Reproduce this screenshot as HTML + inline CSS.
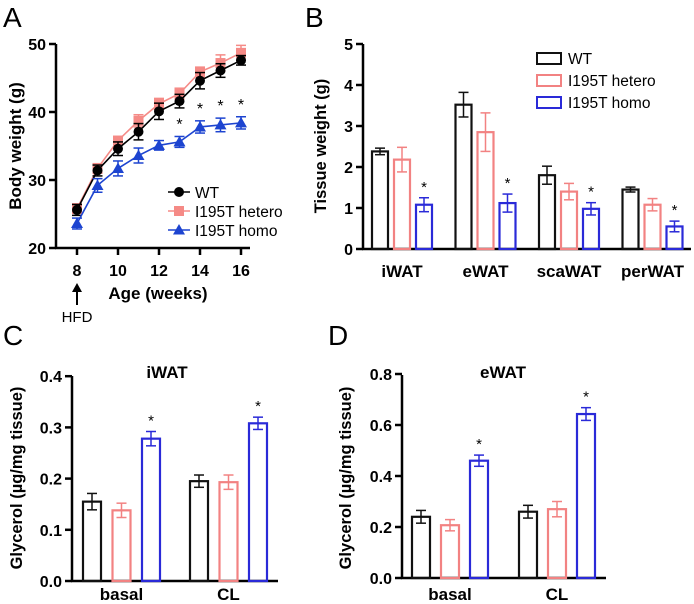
<!DOCTYPE html>
<html><head><meta charset="utf-8"><style>
html,body{margin:0;padding:0;background:#fff}
svg{display:block;font-family:"Liberation Sans",Arial,sans-serif}
</style></head><body>
<svg id="fig" width="694" height="604" viewBox="0 0 694 604"></svg>
<script>
// Panel A data
const ageWeeks = [8,9,10,11,12,13,14,15,16];
const wtBody = [25.6,31.4,34.6,37.1,40.1,41.6,44.6,46.1,47.6];
const wtBodyErr = [0.8,0.8,1.0,1.2,1.2,1.0,1.2,1.0,0.7];
const hetBody = [25.8,31.7,35.8,38.7,41.2,42.7,45.9,47.2,48.7];
const hetBodyErr = [0.7,0.7,0.6,0.9,0.8,0.8,0.7,1.2,1.1];
const homoBody = [23.6,29.2,31.7,33.6,35.1,35.6,37.8,38.1,38.4];
const homoBodyErr = [0.8,1.0,1.1,1.1,0.7,0.8,0.9,1.0,0.9];
const starWeeks = [13,14,15,16];
const aYTicks = [20,30,40,50];
const aXTicks = [8,10,12,14,16];
// Panel B data
const tissues = ["iWAT","eWAT","scaWAT","perWAT"];
const wtTissue = [2.38,3.52,1.8,1.45];
const wtTissueErr = [0.08,0.3,0.22,0.06];
const hetTissue = [2.18,2.85,1.4,1.08];
const hetTissueErr = [0.3,0.47,0.2,0.15];
const homoTissue = [1.08,1.12,0.98,0.55];
const homoTissueErr = [0.17,0.22,0.15,0.13];
const bYTicks = [0,1,2,3,4,5];
// Panel C data
const conditions = ["basal","CL"];
const wtC = [0.155,0.195], wtCErr = [0.016,0.012];
const hetC = [0.138,0.193], hetCErr = [0.014,0.014];
const homoC = [0.278,0.308], homoCErr = [0.014,0.012];
const cYTicks = [0.0,0.1,0.2,0.3,0.4];
// Panel D data
const wtD = [0.24,0.26], wtDErr = [0.025,0.025];
const hetD = [0.207,0.27], hetDErr = [0.022,0.03];
const homoD = [0.46,0.643], homoDErr = [0.022,0.025];
const dYTicks = [0.0,0.2,0.4,0.6,0.8];

const NS="http://www.w3.org/2000/svg";
const svg=document.getElementById('fig');
const BLK="#111", PINK="#f28282", BLUE="#2a2ad8";
function mk(tag,attrs,parent,text){const e=document.createElementNS(NS,tag);for(const k in attrs)e.setAttribute(k,attrs[k]);if(text!==undefined)e.textContent=text;(parent||svg).appendChild(e);return e;}
function grp(name){const g=mk('g',{});return g;}
function txt(g,x,y,s,o){return mk('text',Object.assign({x:x,y:y,'font-size':16,'font-weight':'bold','text-anchor':'middle',fill:'#000'},o||{}),g,s);}
function line(g,x1,y1,x2,y2,c,w){return mk('line',{x1,y1,x2,y2,stroke:c||'#000','stroke-width':w||2},g);}

// Panel letters
[["A",3,27],["B",305,27],["C",3,345],["D",328,345]].forEach(p=>{const t=mk('text',{x:p[1],y:p[2],'font-size':28,fill:'#000'},svg,p[0]);});

// ---------- Panel A ----------
(function(){
const g=grp('panel-a-body-weight-chart');
const X=w=>77+(w-8)*20.5, Y=v=>248-(v-20)*6.8;
line(g,56,44,56,249,'#000',2.5); line(g,55,248,250,248,'#000',2.5);
aYTicks.forEach(v=>{line(g,49,Y(v),56,Y(v),'#000',2.5);const t=txt(g,46,Y(v)+6,String(v),{'text-anchor':'end'});});
aXTicks.forEach(v=>{line(g,X(v),248,X(v),255,'#000',2.5);const t=txt(g,X(v),276,String(v));});
const yl=txt(g,0,0,'Body weight (g)',{transform:'translate(21,146) rotate(-90)','font-size':17});

const xl=txt(g,158,299,'Age (weeks)',{'font-size':17});

line(g,77,305,77,290,'#000',2);mk('polygon',{points:'72,292 82,292 77,283',fill:'#000'},g);
const h=txt(g,77,322,'HFD',{'font-weight':'normal','font-size':15});

function series(vals,errs,col,name,shape){
  const s=mk('g',{},g);
  mk('polyline',{points:vals.map((v,i)=>X(ageWeeks[i])+','+Y(v)).join(' '),fill:'none',stroke:col,'stroke-width':1.6},s);
  vals.forEach((v,i)=>{const x=X(ageWeeks[i]);
    line(s,x,Y(v-errs[i]),x,Y(v+errs[i]),col,1.5);line(s,x-5,Y(v+errs[i]),x+5,Y(v+errs[i]),col,1.5);line(s,x-5,Y(v-errs[i]),x+5,Y(v-errs[i]),col,1.5);
    let m;
    if(shape==='c')m=mk('circle',{cx:x,cy:Y(v),r:5,fill:col},s);
    else if(shape==='s')m=mk('rect',{x:x-5,y:Y(v)-5,width:10,height:10,fill:col},s);
    else m=mk('polygon',{points:`${x-6},${Y(v)+4.5} ${x+6},${Y(v)+4.5} ${x},${Y(v)-6}`,fill:col},s);
    
  });
}
series(hetBody,hetBodyErr,'#f58a86','series-hetero','s');
series(wtBody,wtBodyErr,'#000','series-wt','c');
series(homoBody,homoBodyErr,'#1d44d0','series-homo','t');
starWeeks.forEach(w=>{const i=ageWeeks.indexOf(w);const v=homoBody[i]+homoBodyErr[i];const t=txt(g,X(w),Y(v)-7,'*',{'font-weight':'normal','font-size':16});});
const leg=[['WT','#000','c',192],['I195T hetero','#f58a86','s',211],['I195T homo','#1d44d0','t',230]];
leg.forEach(l=>{const e=mk('g',{},g);
  line(e,168,l[3],190,l[3],l[1],1.6);
  if(l[2]==='c')mk('circle',{cx:179,cy:l[3],r:5,fill:l[1]},e);
  else if(l[2]==='s')mk('rect',{x:174,y:l[3]-5,width:10,height:10,fill:l[1]},e);
  else mk('polygon',{points:`173,${l[3]+4.5} 185,${l[3]+4.5} 179,${l[3]-6}`,fill:l[1]},e);
  txt(e,195,l[3]+6,l[0],{'text-anchor':'start','font-weight':'normal','font-size':15.5});});
})();

// ---------- Bar panel helper ----------
function barPanel(name,opt){
  const g=grp(name);
  const Y=v=>opt.y0-v*opt.scale;
  line(g,opt.ax,opt.yTop,opt.ax,opt.y0+1,'#000',2.5);line(g,opt.ax-1,opt.y0,opt.axEnd,opt.y0,'#000',2.5);
  opt.ticks.forEach(v=>{line(g,opt.ax-7,Y(v),opt.ax,Y(v),'#000',2.5);const t=txt(g,opt.ax-10,Y(v)+6,opt.fmt(v),{'text-anchor':'end'});});
  const series=[[opt.wt,opt.wtE,BLK,'wt'],[opt.het,opt.hetE,PINK,'hetero'],[opt.homo,opt.homoE,BLUE,'homo']];
  opt.cats.forEach((c,ci)=>{
    const gx=opt.g0+ci*opt.gs;
    series.forEach((s,si)=>{
      const x=gx+si*opt.step, v=s[0][ci], e=s[1][ci], cx=x+opt.bw/2;
      const r=mk('rect',{x:x,y:Y(v),width:opt.bw,height:opt.y0-Y(v),fill:'none',stroke:s[2],'stroke-width':2.2},g);
      
      line(g,cx,Y(v-e),cx,Y(v+e),s[2],1.5);line(g,cx-5,Y(v+e),cx+5,Y(v+e),s[2],1.5);line(g,cx-5,Y(v-e),cx+5,Y(v-e),s[2],1.5);
      if(si===2){const t=txt(g,cx,Y(v+e)-6,'*',{'font-weight':'normal','font-size':15});}
    });
    const t=txt(g,gx+opt.step+opt.bw/2,opt.y0+opt.lblDy,c,{'font-size':17});
  });
  const yl=txt(g,0,0,opt.ylabel,{transform:`translate(${opt.ylx},${opt.yly}) rotate(-90)`,'font-size':16.5});
  
  if(opt.title){const t=txt(g,opt.title[1],opt.title[2],opt.title[0],{'font-size':17});}
  return g;
}

const gB=barPanel('panel-b-tissue-weight-chart',{y0:249,scale:41,yTop:44,ax:363,axEnd:691,ticks:bYTicks,fmt:v=>String(v),cats:tissues,
  wt:wtTissue,wtE:wtTissueErr,het:hetTissue,hetE:hetTissueErr,homo:homoTissue,homoE:homoTissueErr,
  g0:372,gs:83.5,step:22,bw:16,lblDy:28,ylabel:'Tissue weight (g)',ylx:326,yly:146});
[['WT',BLK,53],['I195T hetero',PINK,75],['I195T homo',BLUE,97]].forEach(l=>{const e=mk('g',{},gB);
  mk('rect',{x:537,y:l[2],width:24,height:11,fill:'none',stroke:l[1],'stroke-width':2},e);
  txt(e,568,l[2]+11,l[0],{'text-anchor':'start','font-weight':'normal','font-size':15.5});});

barPanel('panel-c-iwat-glycerol-chart',{y0:581,scale:512,yTop:376,ax:72,axEnd:278,ticks:cYTicks,fmt:v=>v.toFixed(1),cats:conditions,
  wt:wtC,wtE:wtCErr,het:hetC,hetE:hetCErr,homo:homoC,homoE:homoCErr,
  g0:83,gs:107,step:29.5,bw:18,lblDy:19,ylabel:'Glycerol (µg/mg tissue)',ylx:22,yly:478,title:['iWAT',167,378]});
barPanel('panel-d-ewat-glycerol-chart',{y0:578,scale:255,yTop:375,ax:402,axEnd:606,ticks:dYTicks,fmt:v=>v.toFixed(1),cats:conditions,
  wt:wtD,wtE:wtDErr,het:hetD,hetE:hetDErr,homo:homoD,homoE:homoDErr,
  g0:412,gs:107,step:29,bw:18,lblDy:22,ylabel:'Glycerol (µg/mg tissue)',ylx:351,yly:478,title:['eWAT',503,378]});
</script>
</body></html>
